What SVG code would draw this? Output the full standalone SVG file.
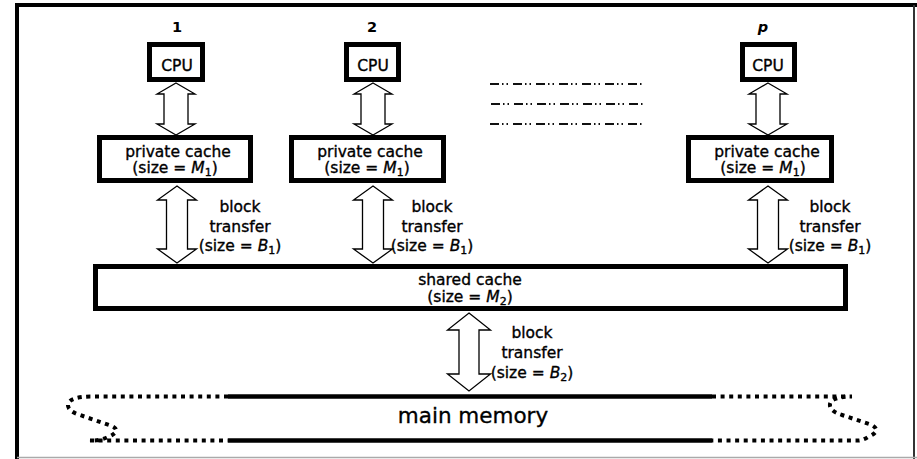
<svg xmlns="http://www.w3.org/2000/svg" width="917" height="459" viewBox="0 0 917 459">
  <style>
    text { font-family: "DejaVu Sans", "Liberation Sans", sans-serif; font-size: 15.5px; fill: #000; stroke: #000; stroke-width: 0.35; text-anchor: middle; }
    .lbl { font-weight: bold; font-size: 14.5px; stroke-width: 0; }
    .box { fill: #fff; stroke: #000; stroke-width: 5; }
    .arrow { fill: #fff; stroke: #000; stroke-width: 1.3; stroke-linejoin: miter; }
    .dots { fill: none; stroke: #000; stroke-width: 4; stroke-dasharray: 4 4.6; }
    .solid { fill: none; stroke: #000; stroke-width: 4.5; }
    .ellipsis { fill: none; stroke: #111; stroke-width: 1.8; stroke-dasharray: 9 3 1.5 3 1.5 5; }
    .it { font-style: italic; }
    .sub { font-size: 11px; }
  </style>

  <rect width="917" height="459" fill="#fff"/>

  <!-- frame -->
  <g id="frame">
    <path d="M17,459 V5 H917" fill="none" stroke="#000" stroke-width="4"/>
    <line x1="914" y1="5" x2="914" y2="459" stroke="#333" stroke-width="2"/>
    <line x1="17" y1="457.5" x2="917" y2="457.5" stroke="#aaa" stroke-width="1.5"/>
  </g>

  <!-- connectors: hollow double-headed block arrows -->
  <g id="connectors">
    <path class="arrow" d="M176,83 L195,94 L188,94 L188,124 L195,124 L176,135 L157,124 L164,124 L164,94 L157,94 Z"/>
    <path class="arrow" d="M373,83 L392,94 L385,94 L385,124 L392,124 L373,135 L354,124 L361,124 L361,94 L354,94 Z"/>
    <path class="arrow" d="M768,83 L787,94 L780,94 L780,124 L787,124 L768,135 L749,124 L756,124 L756,94 L749,94 Z"/>
    <path class="arrow" d="M177,186 L196.5,200 L187.5,200 L187.5,249 L196.5,249 L177,263 L157.5,249 L166.5,249 L166.5,200 L157.5,200 Z"/>
    <path class="arrow" d="M373,186 L392.5,200 L383.5,200 L383.5,249 L392.5,249 L373,263 L353.5,249 L362.5,249 L362.5,200 L353.5,200 Z"/>
    <path class="arrow" d="M768,186 L787.5,200 L778.5,200 L778.5,249 L787.5,249 L768,263 L748.5,249 L757.5,249 L757.5,200 L748.5,200 Z"/>
    <path class="arrow" d="M469,313 L490.5,330 L479,330 L479,374 L490.5,374 L469,391 L447.5,374 L459,374 L459,330 L447.5,330 Z"/>

    <g id="label-bt1">
      <text x="240" y="212">block</text>
      <text x="240" y="231.5">transfer</text>
      <text x="240" y="251">(size = <tspan class="it">B</tspan><tspan class="sub" dy="3">1</tspan><tspan dy="-3">)</tspan></text>
    </g>
    <g id="label-bt2">
      <text x="432" y="212">block</text>
      <text x="432" y="231.5">transfer</text>
      <text x="432" y="251">(size = <tspan class="it">B</tspan><tspan class="sub" dy="3">1</tspan><tspan dy="-3">)</tspan></text>
    </g>
    <g id="label-btp">
      <text x="830" y="212">block</text>
      <text x="830" y="231.5">transfer</text>
      <text x="830" y="251">(size = <tspan class="it">B</tspan><tspan class="sub" dy="3">1</tspan><tspan dy="-3">)</tspan></text>
    </g>
    <g id="label-bt-shared">
      <text x="532" y="338">block</text>
      <text x="532" y="358">transfer</text>
      <text x="532" y="378">(size = <tspan class="it">B</tspan><tspan class="sub" dy="3">2</tspan><tspan dy="-3">)</tspan></text>
    </g>
  </g>

  <!-- processor column 1 -->
  <g id="cpu1">
    <text class="lbl" x="177" y="32">1</text>
    <rect class="box" x="149.5" y="44.5" width="53" height="35"/>
    <text x="177" y="70.5">CPU</text>
  </g>
  <g id="cache1">
    <rect class="box" x="99.5" y="137.5" width="151" height="43"/>
    <text x="178" y="156.5">private cache</text>
    <text x="175" y="173">(size = <tspan class="it">M</tspan><tspan class="sub" dy="3">1</tspan><tspan dy="-3">)</tspan></text>
  </g>

  <!-- processor column 2 -->
  <g id="cpu2">
    <text class="lbl" x="372" y="32">2</text>
    <rect class="box" x="346.5" y="44.5" width="52" height="35"/>
    <text x="373" y="70.5">CPU</text>
  </g>
  <g id="cache2">
    <rect class="box" x="291.5" y="137.5" width="152" height="43"/>
    <text x="370" y="156.5">private cache</text>
    <text x="367" y="173">(size = <tspan class="it">M</tspan><tspan class="sub" dy="3">1</tspan><tspan dy="-3">)</tspan></text>
  </g>

  <!-- elided processors -->
  <g id="ellipsis">
    <line class="ellipsis" x1="490" y1="84" x2="644" y2="84"/>
    <line class="ellipsis" x1="491" y1="104" x2="644" y2="104"/>
    <line class="ellipsis" x1="490" y1="124" x2="644" y2="124"/>
  </g>

  <!-- processor column p -->
  <g id="cpup">
    <text class="lbl it" x="763" y="32">p</text>
    <rect class="box" x="742.5" y="44.5" width="52" height="35"/>
    <text x="768" y="70.5">CPU</text>
  </g>
  <g id="cachep">
    <rect class="box" x="688.5" y="137.5" width="143" height="43"/>
    <text x="767" y="156.5">private cache</text>
    <text x="763" y="173">(size = <tspan class="it">M</tspan><tspan class="sub" dy="3">1</tspan><tspan dy="-3">)</tspan></text>
  </g>

  <!-- shared level -->
  <g id="shared">
    <rect class="box" x="95.5" y="266.5" width="750" height="42"/>
    <text x="470" y="285">shared cache</text>
    <text x="470" y="302">(size = <tspan class="it">M</tspan><tspan class="sub" dy="3">2</tspan><tspan dy="-3">)</tspan></text>
  </g>

  <!-- main memory, open-ended band -->
  <g id="memory">
    <path class="dots" d="M228,396.5 H90 Q70,397 68,404 Q67,411 80,415 L112,426 Q122,431 108,437 Q100,441 90,440.5 H228"/>
    <path class="dots" d="M712,396.5 H852 Q831,397 830,404 Q829,411 842,415 L872,425 Q882,431 868,437 Q862,441 856,440.5 H712"/>
    <line class="solid" x1="228" y1="396.5" x2="712" y2="396.5"/>
    <line class="solid" x1="228" y1="440.5" x2="712" y2="440.5"/>
    <text x="473" y="423" style="font-size:21.5px">main memory</text>
  </g>
</svg>
